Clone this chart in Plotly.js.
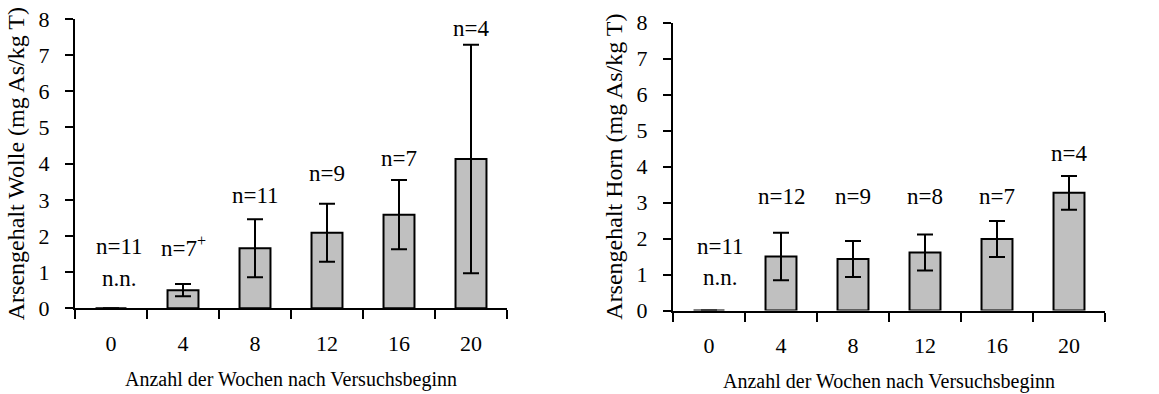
<!DOCTYPE html>
<html>
<head>
<meta charset="utf-8">
<script src="https://cdn.plot.ly/plotly-3.0.1.min.js"></script>
<style>html,body{margin:0;padding:0;background:#fff}#chart{width:1159px;height:394px}</style>
</head>
<body>
<div id="chart"></div>
<script>
// Data
const weeks = ["0", "4", "8", "12", "16", "20"];
const wolleMean = [0, 0.5, 1.66, 2.09, 2.59, 4.13];
const wolleErr = [null, 0.17, 0.8, 0.8, 0.96, 3.16];
const wolleN = ["n=11", "n=7<sup>+</sup>", "n=11", "n=9", "n=7", "n=4"];
const wolleNy = [1.70, 1.70, 3.13, 3.73, 4.15, 7.74];
const hornMean = [0, 1.50, 1.43, 1.61, 1.99, 3.27];
const hornErr = [null, 0.66, 0.5, 0.5, 0.5, 0.47];
const hornN = ["n=11", "n=12", "n=9", "n=8", "n=7", "n=4"];
const hornNy = [1.77, 3.18, 3.18, 3.18, 3.16, 4.37];
const ndLabel = "n.n.";
const ndY = [0.83, 0.92];
const yTicks = [0, 1, 2, 3, 4, 5, 6, 7, 8];

const FONT = "Liberation Serif";
const W = 1159, H = 394;

function barTrace(y, err, xa, ya) {
  return {
    type: "bar", x: weeks, y: y, xaxis: xa, yaxis: ya,
    marker: {color: "#c0c0c0", line: {color: "#000", width: 2}},
    error_y: {type: "data", array: err, visible: true, color: "#000", thickness: 2, width: 8},
    hoverinfo: "skip", showlegend: false
  };
}

const traces = [
  barTrace(wolleMean, wolleErr, "x", "y"),
  barTrace(hornMean, hornErr, "x2", "y2")
];

function xaxisDef(domain, anchor) {
  return {
    domain: domain, anchor: anchor, type: "category",
    range: [-0.5, 5.5],
    showline: true, linecolor: "#000", linewidth: 2,
    ticks: "outside", tickson: "boundaries", ticklen: 9, tickwidth: 2, tickcolor: "#000",
    ticklabelstandoff: 14,
    showgrid: false, zeroline: false,
    tickfont: {family: FONT, size: 22, color: "#000"},
    title: {text: "Anzahl der Wochen nach Versuchsbeginn", font: {family: FONT, size: 20, color: "#000"}, standoff: 17},
    fixedrange: true
  };
}
function yaxisDef(domain, anchor, title) {
  return {
    domain: domain, anchor: anchor, range: [0, 8],
    tickvals: yTicks,
    showline: true, linecolor: "#000", linewidth: 2,
    ticks: "outside", ticklen: 8, tickwidth: 2, tickcolor: "#000",
    ticklabelstandoff: 11,
    showgrid: false, zeroline: false,
    tickfont: {family: FONT, size: 22, color: "#000"},
    title: {text: title, font: {family: FONT, size: 24, color: "#000"}, standoff: 7},
    fixedrange: true
  };
}

const annotations = [];
weeks.forEach((w, i) => {
  annotations.push({x: i, y: wolleNy[i], xref: "x", yref: "y", text: wolleN[i], showarrow: false,
    font: {family: FONT, size: 23, color: "#000"}, yanchor: "middle", xshift: i === 0 ? 8 : 0});
  annotations.push({x: i, y: hornNy[i], xref: "x2", yref: "y2", text: hornN[i], showarrow: false,
    font: {family: FONT, size: 23, color: "#000"}, yanchor: "middle", xshift: i === 0 ? 11 : 0});
});
annotations.push({x: 0, y: ndY[0], xref: "x", yref: "y", text: ndLabel, showarrow: false,
  font: {family: FONT, size: 23, color: "#000"}, yanchor: "middle", xshift: 8});
annotations.push({x: 0, y: ndY[1], xref: "x2", yref: "y2", text: ndLabel, showarrow: false,
  font: {family: FONT, size: 23, color: "#000"}, yanchor: "middle", xshift: 11});

const layout = {
  width: W, height: H,
  margin: {l: 0, r: 0, t: 0, b: 0},
  paper_bgcolor: "#fff", plot_bgcolor: "#fff",
  bargap: 0.57,
  xaxis: xaxisDef([75 / W, 507 / W], "y"),
  yaxis: yaxisDef([(H - 308.3) / H, (H - 19) / H], "x", "Arsengehalt Wolle (mg As/kg T)"),
  xaxis2: xaxisDef([673 / W, 1105 / W], "y2"),
  yaxis2: yaxisDef([(H - 310.5) / H, (H - 22.7) / H], "x2", "Arsengehalt Horn (mg As/kg T)"),
  annotations: annotations,
  font: {family: FONT, color: "#000"}
};

Plotly.newPlot("chart", traces, layout, {displayModeBar: false, staticPlot: true});
</script>
</body>
</html>
